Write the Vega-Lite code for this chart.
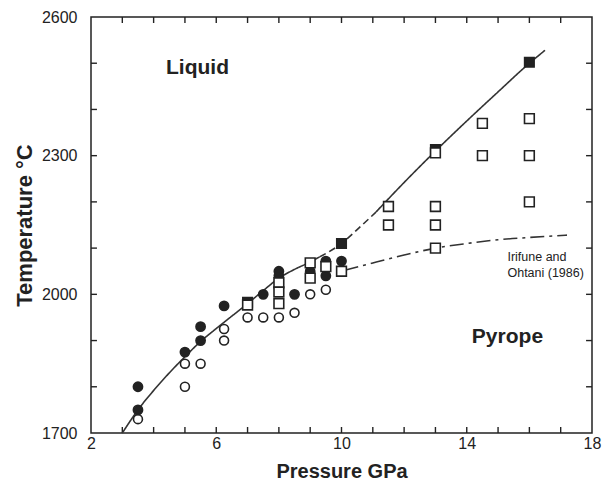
{
  "$schema": "https://vega.github.io/schema/vega-lite/v6.json",
  "width": 501,
  "height": 416,
  "autosize": "none",
  "padding": {"left": 91, "top": 17, "right": 19, "bottom": 47},
  "background": "white",
  "config": {
    "view": {"stroke": "#222", "strokeWidth": 1.5},
    "font": "Liberation Sans"
  },
  "datasets": {
    "pts": [
      {"P": 3.5, "T": 1730, "kind": "open circle"},
      {"P": 5, "T": 1850, "kind": "open circle"},
      {"P": 5, "T": 1800, "kind": "open circle"},
      {"P": 5.5, "T": 1850, "kind": "open circle"},
      {"P": 6.25, "T": 1925, "kind": "open circle"},
      {"P": 6.25, "T": 1900, "kind": "open circle"},
      {"P": 7, "T": 1950, "kind": "open circle"},
      {"P": 7.5, "T": 1950, "kind": "open circle"},
      {"P": 8, "T": 1950, "kind": "open circle"},
      {"P": 8.5, "T": 1960, "kind": "open circle"},
      {"P": 9, "T": 2000, "kind": "open circle"},
      {"P": 9.5, "T": 2010, "kind": "open circle"},
      {"P": 3.5, "T": 1800, "kind": "solid circle"},
      {"P": 3.5, "T": 1750, "kind": "solid circle"},
      {"P": 5, "T": 1875, "kind": "solid circle"},
      {"P": 5.5, "T": 1930, "kind": "solid circle"},
      {"P": 5.5, "T": 1900, "kind": "solid circle"},
      {"P": 6.25, "T": 1975, "kind": "solid circle"},
      {"P": 7.5, "T": 2000, "kind": "solid circle"},
      {"P": 8, "T": 2050, "kind": "solid circle"},
      {"P": 8, "T": 2040, "kind": "solid circle"},
      {"P": 8.5, "T": 2000, "kind": "solid circle"},
      {"P": 9, "T": 2050, "kind": "solid circle"},
      {"P": 9.5, "T": 2072, "kind": "solid circle"},
      {"P": 9.5, "T": 2040, "kind": "solid circle"},
      {"P": 10, "T": 2072, "kind": "solid circle"},
      {"P": 7, "T": 1983, "kind": "solid square"},
      {"P": 10, "T": 2110, "kind": "solid square"},
      {"P": 13, "T": 2313, "kind": "solid square"},
      {"P": 16, "T": 2502, "kind": "solid square"},
      {"P": 7, "T": 1977, "kind": "open square"},
      {"P": 8, "T": 2025, "kind": "open square"},
      {"P": 8, "T": 2005, "kind": "open square"},
      {"P": 8, "T": 1980, "kind": "open square"},
      {"P": 9, "T": 2068, "kind": "open square"},
      {"P": 9, "T": 2035, "kind": "open square"},
      {"P": 9.5, "T": 2060, "kind": "open square"},
      {"P": 10, "T": 2050, "kind": "open square"},
      {"P": 11.5, "T": 2190, "kind": "open square"},
      {"P": 11.5, "T": 2150, "kind": "open square"},
      {"P": 13, "T": 2306, "kind": "open square"},
      {"P": 13, "T": 2190, "kind": "open square"},
      {"P": 13, "T": 2150, "kind": "open square"},
      {"P": 13, "T": 2100, "kind": "open square"},
      {"P": 14.5, "T": 2370, "kind": "open square"},
      {"P": 14.5, "T": 2300, "kind": "open square"},
      {"P": 16, "T": 2380, "kind": "open square"},
      {"P": 16, "T": 2300, "kind": "open square"},
      {"P": 16, "T": 2200, "kind": "open square"}
    ],
    "curves": [
      {"seg": "melt low", "style": "solid", "P": 3, "T": 1700},
      {"seg": "melt low", "style": "solid", "P": 3.5, "T": 1750},
      {"seg": "melt low", "style": "solid", "P": 4, "T": 1792},
      {"seg": "melt low", "style": "solid", "P": 4.5, "T": 1830},
      {"seg": "melt low", "style": "solid", "P": 5, "T": 1865},
      {"seg": "melt low", "style": "solid", "P": 5.5, "T": 1898},
      {"seg": "melt low", "style": "solid", "P": 6, "T": 1926},
      {"seg": "melt low", "style": "solid", "P": 6.5, "T": 1953},
      {"seg": "melt low", "style": "solid", "P": 7, "T": 1980},
      {"seg": "melt low", "style": "solid", "P": 7.5, "T": 2008},
      {"seg": "melt low", "style": "solid", "P": 8, "T": 2035},
      {"seg": "melt low", "style": "solid", "P": 8.5, "T": 2054},
      {"seg": "melt low", "style": "solid", "P": 9, "T": 2070},
      {"seg": "melt low", "style": "solid", "P": 9.3, "T": 2081},
      {"seg": "melt mid", "style": "dashed", "P": 9.3, "T": 2081},
      {"seg": "melt mid", "style": "dashed", "P": 10, "T": 2110},
      {"seg": "melt mid", "style": "dashed", "P": 10.5, "T": 2140},
      {"seg": "melt mid", "style": "dashed", "P": 11.1, "T": 2178},
      {"seg": "melt high", "style": "solid", "P": 11.1, "T": 2178},
      {"seg": "melt high", "style": "solid", "P": 12, "T": 2242},
      {"seg": "melt high", "style": "solid", "P": 13, "T": 2310},
      {"seg": "melt high", "style": "solid", "P": 14, "T": 2375},
      {"seg": "melt high", "style": "solid", "P": 15, "T": 2438},
      {"seg": "melt high", "style": "solid", "P": 16, "T": 2500},
      {"seg": "melt high", "style": "solid", "P": 16.5, "T": 2528},
      {"seg": "Irifune", "style": "dashdot", "P": 10.1, "T": 2052},
      {"seg": "Irifune", "style": "dashdot", "P": 11, "T": 2068},
      {"seg": "Irifune", "style": "dashdot", "P": 12, "T": 2085},
      {"seg": "Irifune", "style": "dashdot", "P": 13, "T": 2100},
      {"seg": "Irifune", "style": "dashdot", "P": 14, "T": 2110},
      {"seg": "Irifune", "style": "dashdot", "P": 15, "T": 2118},
      {"seg": "Irifune", "style": "dashdot", "P": 16, "T": 2123},
      {"seg": "Irifune", "style": "dashdot", "P": 17.2, "T": 2128}
    ],
    "regions": [
      {"label": "Liquid", "P": 5.4, "T": 2490},
      {"label": "Pyrope", "P": 15.3, "T": 1908}
    ],
    "note": [
      {"label": "Irifune and", "P": 15.3, "T": 2081},
      {"label": "Ohtani (1986)", "P": 15.3, "T": 2047}
    ],
    "xticks": [{"P": 3}, {"P": 4}, {"P": 5}, {"P": 6}, {"P": 7}, {"P": 8}, {"P": 9}, {"P": 10}, {"P": 11}, {"P": 12}, {"P": 13}, {"P": 14}, {"P": 15}, {"P": 16}, {"P": 17}],
    "yticks": [{"T": 1800}, {"T": 1900}, {"T": 2000}, {"T": 2100}, {"T": 2200}, {"T": 2300}, {"T": 2400}, {"T": 2500}]
  },
  "layer": [
    {
      "data": {"name": "xticks"},
      "mark": {"type": "rule", "color": "#222", "strokeWidth": 1.4},
      "encoding": {
        "x": {"field": "P", "type": "quantitative", "scale": {"domain": [2, 18], "nice": false, "zero": false},
          "axis": {"orient": "bottom", "values": [2, 6, 10, 14, 18],
            "title": "Pressure GPa", "titleFontSize": 20, "titleFontWeight": "bold", "titleColor": "#222", "titlePadding": 10,
            "labelFontSize": 16, "labelColor": "#222", "labelPadding": 2, "labelFlush": false,
            "grid": false, "domain": false, "ticks": false}},
        "y": {"datum": 1700, "type": "quantitative", "scale": {"domain": [1700, 2600], "nice": false, "zero": false},
          "axis": {"orient": "left", "values": [1700, 2000, 2300, 2600], "format": "d",
            "title": "Temperature °C", "titleFontSize": 22, "titleFontWeight": "bold", "titleColor": "#222", "titlePadding": 5,
            "labelFontSize": 16, "labelColor": "#222", "labelPadding": 14, "labelFlush": false,
            "grid": false, "domain": false, "ticks": false}},
        "y2": {"datum": 1713}
      }
    },
    {
      "data": {"name": "xticks"},
      "mark": {"type": "rule", "color": "#222", "strokeWidth": 1.4},
      "encoding": {
        "x": {"field": "P", "type": "quantitative"},
        "y": {"datum": 2600, "type": "quantitative"},
        "y2": {"datum": 2587}
      }
    },
    {
      "data": {"name": "yticks"},
      "mark": {"type": "rule", "color": "#222", "strokeWidth": 1.4},
      "encoding": {
        "y": {"field": "T", "type": "quantitative"},
        "x": {"datum": 2, "type": "quantitative"},
        "x2": {"datum": 2.19}
      }
    },
    {
      "data": {"name": "yticks"},
      "mark": {"type": "rule", "color": "#222", "strokeWidth": 1.4},
      "encoding": {
        "y": {"field": "T", "type": "quantitative"},
        "x": {"datum": 18, "type": "quantitative"},
        "x2": {"datum": 17.81}
      }
    },
    {
      "data": {"name": "curves"},
      "mark": {"type": "line", "color": "#333", "strokeWidth": 1.6, "interpolate": "monotone"},
      "encoding": {
        "x": {"field": "P", "type": "quantitative"},
        "y": {"field": "T", "type": "quantitative"},
        "detail": {"field": "seg"},
        "strokeDash": {"field": "style", "type": "nominal", "legend": null,
          "scale": {"domain": ["solid", "dashed", "dashdot"], "range": [[1, 0], [7, 4], [14, 5, 3, 5]]}}
      }
    },
    {
      "data": {"name": "pts"},
      "mark": {"type": "point", "filled": true, "stroke": "#222", "strokeWidth": 1.6, "opacity": 1},
      "encoding": {
        "x": {"field": "P", "type": "quantitative"},
        "y": {"field": "T", "type": "quantitative"},
        "shape": {"field": "kind", "type": "nominal", "legend": null,
          "scale": {"domain": ["open circle", "solid circle", "solid square", "open square"], "range": ["circle", "circle", "square", "square"]}},
        "fill": {"field": "kind", "type": "nominal", "legend": null,
          "scale": {"domain": ["open circle", "solid circle", "solid square", "open square"], "range": ["white", "#222", "#222", "white"]}},
        "size": {"field": "kind", "type": "nominal", "legend": null,
          "scale": {"domain": ["open circle", "solid circle", "solid square", "open square"], "range": [80, 95, 150, 150]}}
      }
    },
    {
      "data": {"name": "regions"},
      "mark": {"type": "text", "fontSize": 21, "fontWeight": "bold", "color": "#222", "align": "center", "baseline": "middle"},
      "encoding": {
        "x": {"field": "P", "type": "quantitative"},
        "y": {"field": "T", "type": "quantitative"},
        "text": {"field": "label"}
      }
    },
    {
      "data": {"name": "note"},
      "mark": {"type": "text", "fontSize": 12.5, "color": "#222", "align": "left", "baseline": "middle"},
      "encoding": {
        "x": {"field": "P", "type": "quantitative"},
        "y": {"field": "T", "type": "quantitative"},
        "text": {"field": "label"}
      }
    }
  ]
}
